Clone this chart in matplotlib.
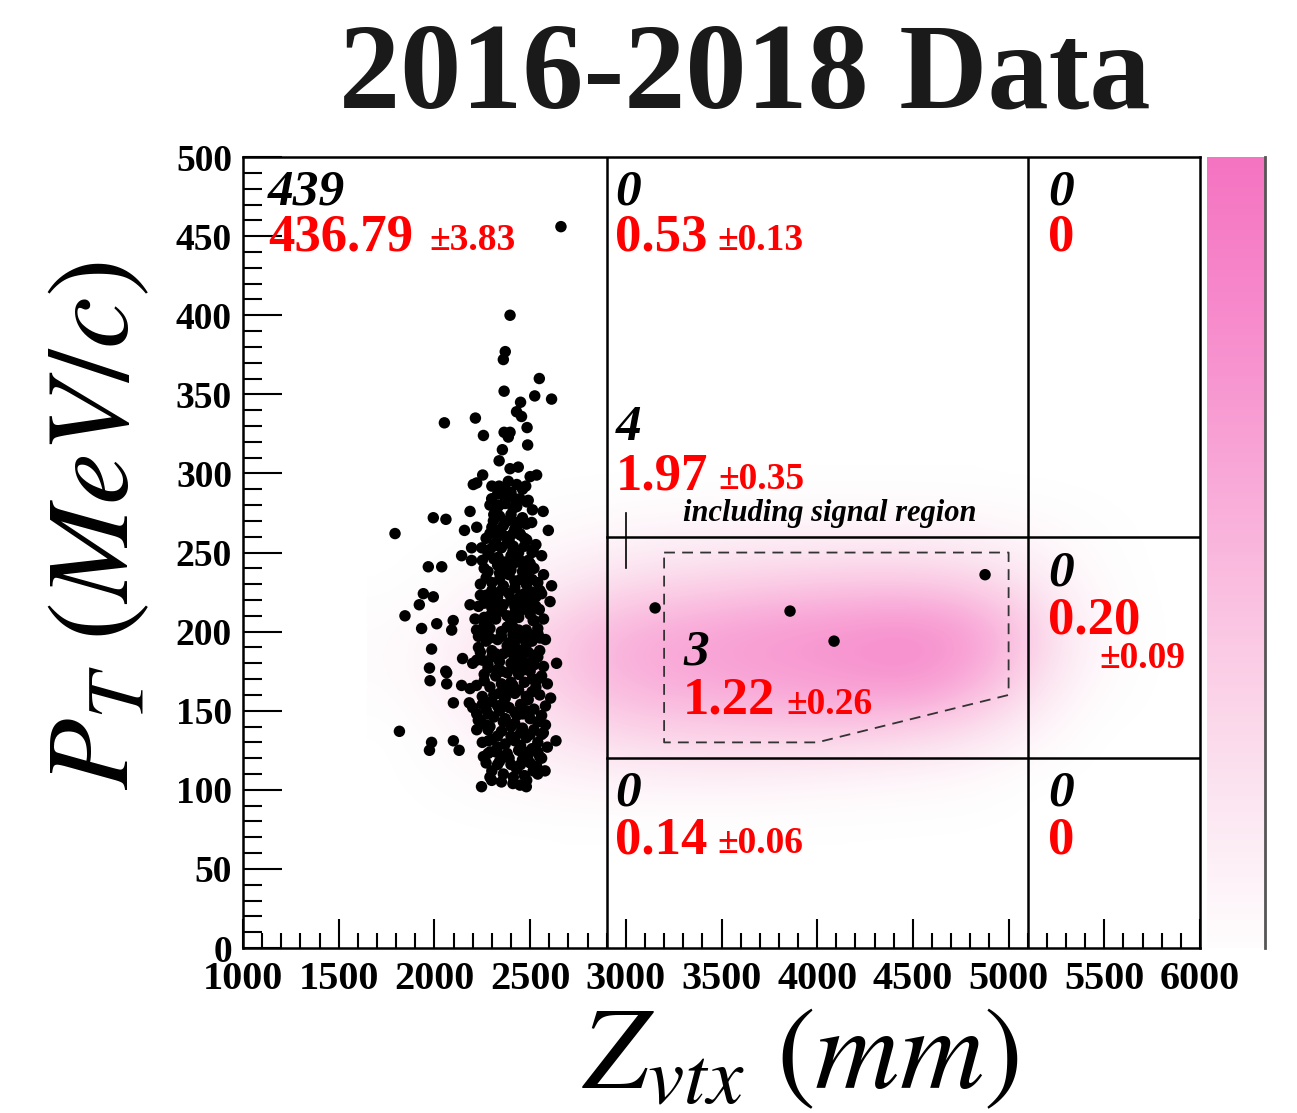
import matplotlib
matplotlib.use('Agg')
import matplotlib.pyplot as plt
import numpy as np
from matplotlib.colors import LinearSegmentedColormap

# ---------------- data ----------------
# isolated / edge events in the control region (Zvtx mm, PT MeV/c)
edge_z = [2395, 2370, 2360, 2548, 2364, 2524, 2612, 2450, 2429, 2455, 2052, 2214, 2484, 2256, 2364, 2395,
          2386, 2487, 2355, 2338, 2395, 2438, 2252, 2500, 2534, 2386, 2203, 2221, 2338, 2430, 2477, 2299,
          2369, 2447, 2482, 2186, 2325, 2411, 2512, 2568, 1994, 2060, 2308, 2429, 2508, 1794, 2157, 2221,
          2325, 2595, 2377, 2447, 2482, 2194, 2247, 2308, 2412, 2516, 2560, 2142, 2194, 2333, 2447, 1968,
          2038, 2482, 2482, 2612, 2551, 2604, 1942, 1994, 1921, 1846, 2186, 2548, 1933, 2012, 2098, 2090,
          2212, 2273, 2516, 2552, 1985, 2638, 1974, 2059, 2147, 2221, 1977, 2064, 2064, 2142, 2186, 2099,
          2182, 2264, 2607, 2221, 2229, 1817, 2221, 2282, 1985, 1974, 2099, 2129, 2635, 2569, 2256, 2291,
          2560, 2578, 2534, 2246, 2299, 2447, 2482, 2412, 2516]
edge_pt = [400, 377, 372, 360, 352, 349, 347, 345, 339, 336, 332, 335, 329, 324, 326, 326,
           323, 318, 315, 308, 303, 304, 299, 298, 299, 295, 293, 294, 292, 293, 292, 284,
           285, 284, 282, 276, 277, 278, 277, 276, 272, 271, 270, 269, 269, 262, 264, 266,
           264, 264, 260, 262, 258, 253, 253, 254, 254, 252, 248, 248, 245, 247, 245, 241,
           241, 237, 230, 229, 226, 219, 224, 222, 217, 210, 217, 214, 202, 205, 207, 201,
           208, 205, 207, 196, 189, 180, 177, 175, 183, 182, 169, 174, 167, 166, 164, 155,
           155, 155, 158, 148, 144, 137, 138, 131, 130, 125, 131, 125, 131, 136, 121, 124,
           120, 112, 115, 102, 106, 103, 106, 108, 112]

# dense core of the control region
core_z = [2300, 2360, 2430, 2470, 2540, 2270, 2340, 2400, 2460, 2500, 2550, 2320, 2380, 2440, 2510, 2590,
          2250, 2300, 2370, 2420, 2480, 2540, 2280, 2350, 2400, 2460, 2520, 2580, 2240, 2310, 2370, 2430,
          2500, 2560, 2200, 2270, 2330, 2390, 2450, 2520, 2580, 2250, 2310, 2370, 2420, 2480, 2550, 2220,
          2290, 2350, 2410, 2470, 2530, 2590, 2260, 2320, 2380, 2440, 2500, 2560, 2200, 2280, 2340, 2400,
          2460, 2520, 2240, 2300, 2360, 2430, 2490, 2550, 2270, 2330, 2390, 2450, 2510, 2580, 2220, 2290,
          2350, 2410, 2480, 2540, 2260, 2320, 2380, 2440, 2500, 2570, 2230, 2300, 2360, 2420, 2470, 2530,
          2270, 2330, 2390, 2450, 2510, 2240, 2300, 2360, 2420, 2480, 2540, 2280, 2340, 2400, 2460, 2520,
          2250, 2310, 2370, 2430, 2490, 2290, 2350, 2410, 2470, 2530, 2270, 2330, 2390, 2450, 2300, 2360,
          2420, 2480, 2340, 2400, 2460, 2290, 2370, 2430, 2490, 2330, 2400, 2460,
          2330, 2400, 2450, 2500, 2270, 2340, 2420, 2480, 2300, 2440, 2380, 2510, 2260, 2330, 2410, 2470,
          2300, 2380, 2450, 2520, 2230, 2350, 2410, 2480, 2540, 2260, 2320, 2400, 2460, 2290, 2350, 2430,
          2500, 2270, 2390, 2450, 2330, 2410, 2470, 2380, 2440, 2350, 2310, 2420, 2560, 2570, 2510, 2570,
          2230, 2240, 2330, 2490, 2390, 2520,
          2350, 2410, 2480, 2290, 2450, 2280, 2350, 2470, 2540, 2330, 2450, 2560, 2290, 2360, 2420, 2540,
          2280, 2460, 2250, 2360, 2490, 2340, 2400, 2540, 2280, 2350, 2440, 2500, 2250, 2320, 2410, 2470,
          2540, 2290, 2420, 2500, 2250, 2380, 2440, 2520, 2290, 2350, 2420, 2490, 2260, 2330, 2400, 2470,
          2530, 2300, 2420, 2510, 2340, 2260, 2370, 2440, 2500, 2280, 2400, 2510, 2320, 2470, 2410, 2290,
          2340, 2380, 2440, 2370, 2300]
core_pt = [112, 110, 113, 109, 110, 117, 118, 116, 119, 117, 121, 124, 123, 125, 126, 127,
           130, 132, 129, 131, 133, 130, 138, 137, 140, 139, 138, 141, 144, 146, 145, 147,
           145, 147, 152, 151, 153, 152, 154, 151, 153, 159, 160, 158, 161, 159, 160, 166,
           165, 167, 166, 168, 165, 167, 173, 172, 174, 173, 175, 172, 180, 179, 181, 180,
           182, 179, 187, 188, 186, 189, 187, 188, 194, 195, 193, 196, 194, 195, 201, 202,
           200, 203, 201, 202, 209, 208, 210, 209, 211, 208, 216, 215, 217, 216, 218, 216,
           223, 222, 224, 223, 225, 230, 231, 229, 232, 230, 231, 238, 237, 239, 238, 240,
           245, 246, 244, 247, 245, 252, 253, 251, 254, 255, 259, 260, 258, 261, 266, 267,
           265, 268, 273, 274, 272, 280, 281, 279, 283, 287, 288, 290,
           127, 134, 128, 135, 141, 150, 149, 150, 156, 163, 163, 162, 169, 176, 177, 176,
           184, 191, 183, 185, 190, 197, 198, 192, 199, 205, 212, 206, 214, 220, 226, 220,
           221, 234, 236, 233, 242, 243, 241, 256, 250, 262, 274, 284, 224, 236, 170, 178,
           197, 223, 116, 122, 120, 113,
           105, 104, 102, 108, 116, 123, 121, 124, 124, 134, 136, 135, 140, 143, 142, 143,
           148, 148, 154, 155, 157, 161, 168, 170, 177, 175, 179, 180, 182, 186, 186, 189,
           184, 196, 194, 198, 199, 203, 201, 207, 210, 213, 212, 215, 218, 219, 220, 224,
           222, 226, 228, 233, 233, 240, 240, 244, 243, 249, 248, 250, 256, 259, 262, 262,
           280, 270, 268, 290, 292]

# isolated events outside the control region
other_z = [2661, 3153, 3858, 4088, 4877]
other_pt = [456, 215, 213, 194, 236]

# simulated signal density (pink), coarse grid
heat_z = [1800, 2100, 2400, 2700, 3000, 3300, 3600, 3900, 4200, 4500, 4800, 5100, 5400, 5700]
heat_pt = [80, 110, 140, 170, 200, 230, 260, 290]
heat_vals = [
    [0.00, 0.00, 0.00, 0.00, 0.00, 0.00, 0.00, 0.00, 0.00, 0.00, 0.00, 0.00, 0.00, 0.00],
    [0.00, 0.02, 0.06, 0.10, 0.12, 0.13, 0.13, 0.11, 0.09, 0.07, 0.05, 0.00, 0.00, 0.00],
    [0.00, 0.06, 0.15, 0.25, 0.35, 0.38, 0.40, 0.42, 0.42, 0.38, 0.28, 0.12, 0.00, 0.00],
    [0.03, 0.12, 0.25, 0.42, 0.55, 0.60, 0.65, 0.68, 0.72, 0.76, 0.62, 0.32, 0.06, 0.00],
    [0.03, 0.10, 0.25, 0.42, 0.55, 0.62, 0.68, 0.72, 0.76, 0.80, 0.70, 0.42, 0.10, 0.00],
    [0.00, 0.03, 0.10, 0.18, 0.28, 0.32, 0.36, 0.39, 0.41, 0.41, 0.36, 0.22, 0.05, 0.00],
    [0.00, 0.00, 0.02, 0.05, 0.08, 0.10, 0.12, 0.12, 0.12, 0.12, 0.10, 0.06, 0.02, 0.00],
    [0.00, 0.00, 0.00, 0.00, 0.00, 0.00, 0.00, 0.00, 0.00, 0.00, 0.00, 0.00, 0.00, 0.00],
]

# region boundaries
z_cuts = [2900, 5100]
pt_cuts = [120, 260]
# signal region polygon
sig_z = [3200, 5000, 5000, 4000, 3200, 3200]
sig_pt = [250, 250, 160, 130, 130, 250]

# region labels: observed count, expected, error
obs_labels = [(1130, 470, '439'), (2945, 470, '0'), (5205, 470, '0'), (2945, 321, '4'),
              (3300, 179, '3'), (5205, 229, '0'), (2945, 90, '0'), (5205, 90, '0')]
exp_labels = [(1130, 441, '436.79'), (2945, 441, '0.53'), (5205, 441, '0'), (2945, 290, '1.97'),
              (3300, 148, '1.22'), (5205, 199, '0.20'), (2945, 60, '0.14'), (5205, 60, '0')]
err_labels = [(1975, 441, '±3.83'), (3480, 441, '±0.13'), (3485, 290, '±0.35'),
              (3840, 148, '±0.26'), (5475, 177, '±0.09'), (3480, 60, '±0.06')]

# ---------------- drawing ----------------
plt.rcParams['mathtext.fontset'] = 'stix'
plt.rcParams['font.family'] = ['Liberation Serif', 'DejaVu Serif']

fig = plt.figure(figsize=(12.97, 11.13), dpi=100)
ax = fig.add_axes([0.1874, 0.1482, 0.7378, 0.7107])

pink = LinearSegmentedColormap.from_list(
    'pink', ['#ffffff', '#fce6f1', '#fbc9e4', '#f9a9d8', '#f78bcc', '#f574c2'])

dz = heat_z[1] - heat_z[0]
dp = heat_pt[1] - heat_pt[0]
ax.imshow(np.array(heat_vals), origin='lower', cmap=pink, vmin=0, vmax=1,
          extent=[heat_z[0] - dz / 2, heat_z[-1] + dz / 2, heat_pt[0] - dp / 2, heat_pt[-1] + dp / 2],
          interpolation='bicubic', aspect='auto', zorder=0)

ax.scatter(edge_z + core_z + other_z, edge_pt + core_pt + other_pt, s=68, color='black',
           edgecolors='none', zorder=3)

for zc in z_cuts:
    ax.plot([zc, zc], [0, 500], color='black', lw=1.8, zorder=2)
for pc in pt_cuts:
    ax.plot([z_cuts[0], 6000], [pc, pc], color='black', lw=1.8, zorder=2)
ax.plot(sig_z, sig_pt, color='#333333', lw=1.3, ls=(0, (6, 4)), zorder=2)
ax.plot([3000, 3000], [240, 275], color='black', lw=1.2, zorder=2)

for z, p, t in obs_labels:
    ax.text(z, p, t, fontsize=37, fontweight='bold', style='italic', color='black',
            ha='left', va='baseline', zorder=4)
for z, p, t in exp_labels:
    ax.text(z, p, t, fontsize=38, fontweight='bold', color='#ff0000',
            ha='left', va='baseline', zorder=4)
for z, p, t in err_labels:
    ax.text(z, p, t, fontsize=27, fontweight='bold', color='#ff0000',
            ha='left', va='baseline', zorder=4)
ax.text(3300, 270, 'including signal region', fontsize=22, fontweight='bold', style='italic',
        color='black', ha='left', va='baseline', zorder=4)

ax.set_xlim(1000, 6000)
ax.set_ylim(0, 500)
ax.set_xticks(np.arange(1000, 6001, 500))
ax.set_xticks(np.arange(1000, 6001, 100), minor=True)
ax.set_yticks(np.arange(0, 501, 50))
ax.set_yticks(np.arange(0, 501, 10), minor=True)
ax.tick_params(axis='x', which='major', direction='in', length=21, width=1.5, pad=9,
               labelsize=29, top=False)
ax.tick_params(axis='x', which='minor', direction='in', length=11, width=1.5, top=False)
ax.tick_params(axis='y', which='major', direction='in', length=28, width=1.5, pad=8,
               labelsize=27, right=False)
ax.tick_params(axis='y', which='minor', direction='in', length=14, width=1.5, right=False)
for lab in ax.get_xticklabels() + ax.get_yticklabels():
    lab.set_fontweight('bold')
for sp in ax.spines.values():
    sp.set_linewidth(1.8)

# colour bar strip
cax = fig.add_axes([0.9306, 0.1482, 0.0447, 0.7107])
cax.imshow(np.linspace(0.02, 1, 256).reshape(-1, 1), origin='lower', cmap=pink, vmin=0, vmax=1,
           aspect='auto', extent=[0, 1, 0, 1])
cax.set_xticks([])
cax.set_yticks([])
for name, sp in cax.spines.items():
    sp.set_visible(name == 'right')
cax.spines['right'].set_color('#555555')
cax.spines['right'].set_linewidth(2)

fig.text(0.574, 0.903, '2016-2018 Data', fontsize=88, fontweight='bold', color='#1a1a1a',
         ha='center', va='baseline')
fig.text(0.077, 0.528, r'$P_{T}\ (MeV/c)$', fontsize=84, rotation=90, ha='center', va='center')
fig.text(0.617, 0.022, r'$Z_{vtx}\ (mm)$', fontsize=84, ha='center', va='baseline')

fig.savefig('out.png', dpi=100)
